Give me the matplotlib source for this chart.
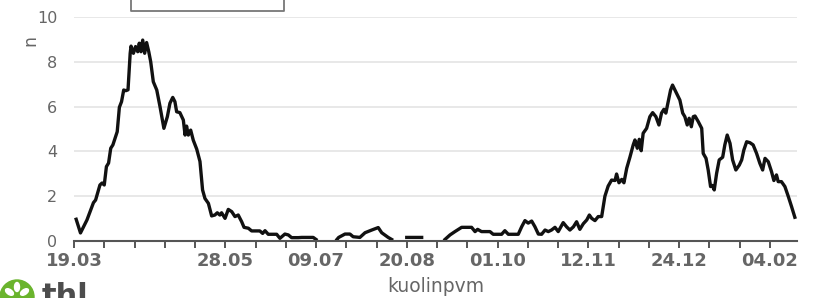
import matplotlib
matplotlib.use('Agg')

import matplotlib.pyplot as plt
from matplotlib.patches import Circle, Ellipse
import numpy as np
import pandas as pd

start = pd.Timestamp('2020-03-19')

# days after 19.03.2020 and the plotted value (nan = no line drawn)
days = [1, 3, 6, 9, 10, 12, 13, 14, 15, 16, 17, 18, 20, 21, 22, 23, 24, 25,
        26, 26.4, 27.5, 28.5, 29.5, 30.2, 31, 31.8, 32.7, 33.6, 34.6, 35.5,
        36.7, 38.3, 39.8, 41.6, 43.2, 44.4, 45.7, 46.7, 47.5, 49, 50.6, 51.4,
        52.1, 52.9, 54, 55.2, 56.8, 58.3, 59.5, 60.6, 62.2, 63.7, 65.2, 66.3,
        67.5, 68.3, 69.9, 71.4, 73, 74.5, 76, 77.6, 78.7, 80.7, 82.2, 86,
        87.3, 88.4, 89.9, 93.8, 95.3, 97.6, 99.2, 100.7, 103.8, 105.4, 110.7,
        112, 113,
        121.7, 122.5, 125.4, 127.7, 129.2, 132.3, 134.7, 137.8, 140.8, 142.4,
        145.4, 147, 148,
        154, 160.9, 162,
        171.7, 174, 176.3, 179.4, 184, 185.6, 186.8, 188.6, 192.5, 194, 197.9,
        199.4, 201, 205.6, 207.2, 208.7, 210.2, 211.8, 213.3, 214.9, 216.4,
        218, 219.5, 221, 222.6, 224.1, 226.4, 228, 229.5, 231.1, 232.6, 234.1,
        235.7, 237.3, 238.5, 239.6, 241.1, 242.6, 244.2, 245.7, 247.2, 248.8,
        250.4, 251.1, 252.2, 253.5, 254.5, 255.8, 257.3, 258.8, 259.6, 260.7,
        261.6, 262.5, 263.4, 265, 266.5, 267.8, 269.3, 270.7, 271.9, 273,
        273.9, 275, 276.1, 277, 278.1, 279.2, 280.4, 281.7, 282.7, 283.8,
        284.7, 285.7, 286.6, 287.4, 288.9, 290.5, 291.2, 292.5, 293.5, 294.6,
        295.4, 296.3, 297.4, 298.6, 300.2, 301.2, 302.3, 303.6, 304.8, 306.3,
        307.9, 309, 310, 311.3, 312.8, 314.3, 315.9, 317.4, 318.7, 319.8,
        321.3, 322.8, 323.9, 325.1, 325.9, 327.4, 329, 330.6, 332.1, 333.6]
vals = [0.97, 0.36, 0.94, 1.71, 1.83, 2.5, 2.59, 2.5, 3.32, 3.48, 4.14, 4.29,
        4.88, 5.97, 6.22, 6.74, 6.71, 6.75, 8.38, 8.7, 8.38, 8.68, 8.45, 8.83,
        8.45, 8.97, 8.38, 8.86, 8.45, 8.0, 7.11, 6.74, 6.0, 5.03, 5.55, 6.15,
        6.41, 6.22, 5.77, 5.73, 5.4, 4.73, 5.13, 4.73, 4.95, 4.5, 4.1, 3.55,
        2.28, 1.9, 1.68, 1.12, 1.16, 1.26, 1.16, 1.26, 1.01, 1.41, 1.31, 1.09,
        1.16, 0.86, 0.61, 0.57, 0.45, 0.45, 0.34, 0.46, 0.3, 0.3, 0.12, 0.31,
        0.27, 0.15, 0.15, 0.16, 0.16, 0.07, np.nan,
        0.07, 0.16, 0.31, 0.31, 0.19, 0.16, 0.37, 0.49, 0.6, 0.37, 0.16, 0.07,
        np.nan,
        0.16, 0.16, np.nan,
        0.07, 0.27, 0.42, 0.61, 0.61, 0.42, 0.52, 0.42, 0.42, 0.3, 0.3, 0.46,
        0.3, 0.3, 0.64, 0.91, 0.8, 0.89, 0.64, 0.31, 0.3, 0.49, 0.42, 0.49,
        0.61, 0.42, 0.82, 0.63, 0.49, 0.63, 0.86, 0.52, 0.77, 0.94, 1.16, 1.01,
        0.91, 1.09, 1.09, 2.0, 2.45, 2.72, 2.7, 2.99, 2.6, 2.75, 2.6, 3.25,
        3.75, 4.29, 4.51, 4.14, 4.54, 4.03, 4.81, 5.03, 5.55, 5.73, 5.55, 5.18,
        5.71, 5.88, 5.71, 6.22, 6.74, 6.96, 6.74, 6.52, 6.29, 5.71, 5.55, 5.18,
        5.48, 5.1, 5.55, 5.58, 5.33, 5.03, 3.91, 3.69, 3.17, 2.43, 2.48, 2.28,
        3.02, 3.62, 3.74, 4.29, 4.73, 4.36, 3.62, 3.17, 3.39, 3.62, 4.06, 4.43,
        4.39, 4.29, 3.91, 3.47, 3.17, 3.69, 3.54, 3.1, 2.7, 2.95, 2.65, 2.65,
        2.43, 1.98, 1.53, 1.06]

yticks = [0, 2, 4, 6, 8, 10]
tick_step = 14
labelled = [0, 5, 8, 11, 14, 17, 20, 23]   # which 14-day ticks get a label
bracket = [26.4, 97.2]                      # selection bracket at the top

grey = '#666666'

fig = plt.figure(figsize=(8.18, 2.98), dpi=100)
ax = fig.add_axes([74 / 818, 1 - 241 / 298, (797 - 74) / 818, (241 - 17) / 298])

ax.plot(days, vals, color='#111111', lw=2.4, solid_joinstyle='round', zorder=2)

ax.set_xlim(0, 334.6)
ax.set_ylim(0, 10)

xt = np.arange(0, 334, tick_step)
ax.set_xticks(xt)
labels = []
for i, d in enumerate(xt):
    if i in labelled:
        labels.append((start + pd.Timedelta(days=int(d))).strftime('%d.%m'))
    else:
        labels.append('')
ax.set_xticklabels(labels, fontsize=13, fontweight='bold', color=grey)
ax.tick_params(axis='x', length=5, width=1.4, color='#555555', pad=3)

ax.set_yticks(yticks)
ax.set_yticklabels([str(v) for v in yticks], fontsize=11.5, color=grey)
ax.tick_params(axis='y', length=0, pad=12)

ax.grid(axis='y', color='#e4e4e4', lw=1.2)
ax.set_axisbelow(True)
for s in ['top', 'left', 'right']:
    ax.spines[s].set_visible(False)
ax.spines['bottom'].set_color('#555555')
ax.spines['bottom'].set_linewidth(1.5)

ax.set_xlabel('kuolinpvm', fontsize=13.5, color=grey, labelpad=5)
fig.text(30 / 818, 1 - 40 / 298, 'n', rotation=90, fontsize=12.5, color=grey,
         ha='center', va='center')

# bracket above the plot
ax.plot([bracket[0], bracket[0], bracket[1], bracket[1]], [10.8, 10.27, 10.27, 10.8],
        color='#777777', lw=1.3, clip_on=False)

# thl logo, bottom left
lax = fig.add_axes([0, 0, 120 / 818, 30 / 298])
lax.set_xlim(0, 120)
lax.set_ylim(0, 30)
lax.axis('off')
lax.add_patch(Circle((17, 1), 17, color='#6ab42d', clip_on=False))
lax.add_patch(Ellipse((17, 11), 5, 9, color='white'))
lax.add_patch(Ellipse((9.5, 6), 5, 9, angle=55, color='white'))
lax.add_patch(Ellipse((24.5, 6), 5, 9, angle=-55, color='white'))
lax.text(42, 16, 'thl', fontsize=22, fontweight='bold', color='#4d4d4d',
         va='top', ha='left')

fig.savefig('out.png', dpi=100)
